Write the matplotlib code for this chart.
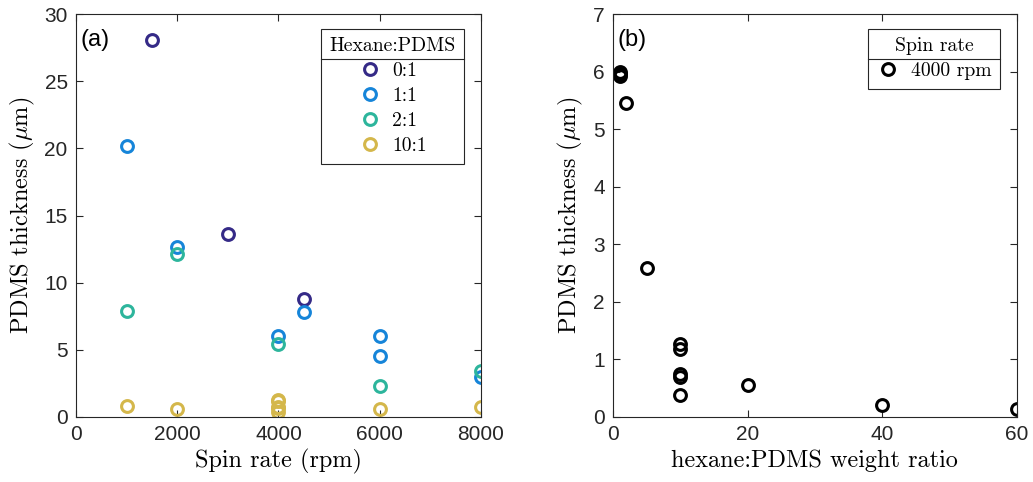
import numpy as np
import matplotlib
matplotlib.use('Agg')
import matplotlib.pyplot as plt
from matplotlib.lines import Line2D

plt.rcParams['font.family'] = ['Liberation Sans', 'DejaVu Sans']
plt.rcParams['mathtext.fontset'] = 'cm'
plt.rcParams['axes.unicode_minus'] = False

# ── (a) thickness vs spin rate, one series per hexane:PDMS ratio ─────────────
ratio_labels = ['0:1', '1:1', '2:1', '10:1']
ratio_colors = ['#352a87', '#1685d9', '#2db59c', '#d4b74b']

rpm_01 = [1500, 3000, 4500]
thk_01 = [28.1, 13.6, 8.8]

rpm_11 = [1000, 2000, 4000, 4500, 6000, 6000, 8000]
thk_11 = [20.2, 12.65, 6.0, 7.82, 6.0, 4.55, 2.95]

rpm_21 = [1000, 2000, 4000, 6000, 8000]
thk_21 = [7.9, 12.15, 5.45, 2.27, 3.43]

rpm_101 = [1000, 2000, 4000, 4000, 4000, 4000, 4000, 6000, 8000]
thk_101 = [0.82, 0.6, 1.27, 1.18, 0.75, 0.70, 0.39, 0.57, 0.77]

series_a = [(rpm_01, thk_01), (rpm_11, thk_11), (rpm_21, thk_21), (rpm_101, thk_101)]

# ── (b) thickness vs weight ratio at 4000 rpm ────────────────────────────────
wt_ratio = [1, 1, 1, 2, 5, 10, 10, 10, 10, 10, 20, 40, 60]
thk_4000 = [6.0, 5.96, 5.93, 5.46, 2.58, 1.27, 1.18, 0.75, 0.70, 0.39, 0.56, 0.20, 0.14]

SERIF = 'cmr10'
TICK_FS = 15
LABEL_FS = 17.5
LEG_FS = 14.2
MS, MEW = 8.5, 2.2
AX_COL = '#262626'

fig = plt.figure(figsize=(10.33, 4.82), dpi=100)
ax_a = fig.add_axes([0.0736, 0.1349, 0.392, 0.836])
ax_b = fig.add_axes([0.5934, 0.1349, 0.391, 0.836])


def style_axes(ax):
    ax.tick_params(direction='in', top=True, right=True, length=5, width=0.8,
                   labelsize=TICK_FS, colors=AX_COL, pad=6)
    for sp in ax.spines.values():
        sp.set_color(AX_COL)
        sp.set_linewidth(0.8)


ylab = r'PDMS thickness ($\mu$m)'

for (x, y), lab, col in zip(series_a, ratio_labels, ratio_colors):
    ax_a.plot(x, y, 'o', ms=MS, mfc='none', mec=col, mew=MEW, label=lab)
ax_a.set_xlim(0, 8000)
ax_a.set_ylim(0, 30)
ax_a.set_xticks([0, 2000, 4000, 6000, 8000])
ax_a.set_yticks([0, 5, 10, 15, 20, 25, 30])
ax_a.set_xlabel('Spin rate (rpm)', family=SERIF, fontsize=LABEL_FS, labelpad=3)
ax_a.set_ylabel(ylab, family=SERIF, fontsize=LABEL_FS, labelpad=5)
ax_a.text(0.012, 0.962, '(a)', transform=ax_a.transAxes, fontsize=17,
          va='top', ha='left')
style_axes(ax_a)

ax_b.plot(wt_ratio, thk_4000, 'o', ms=MS, mfc='none', mec='black', mew=MEW,
          label='4000 rpm')
ax_b.set_xlim(0, 60)
ax_b.set_ylim(0, 7)
ax_b.set_xticks([0, 20, 40, 60])
ax_b.set_yticks(range(0, 8))
ax_b.set_xlabel('hexane:PDMS weight ratio', family=SERIF, fontsize=LABEL_FS, labelpad=4)
ax_b.set_ylabel(ylab, family=SERIF, fontsize=LABEL_FS, labelpad=6)
ax_b.text(0.012, 0.962, '(b)', transform=ax_b.transAxes, fontsize=17,
          va='top', ha='left')
style_axes(ax_b)

# legends with a MATLAB-style title row separated by a rule
leg_kw = dict(loc='upper right', bbox_to_anchor=(0.958, 0.963), borderaxespad=0,
              frameon=True, fancybox=False, edgecolor=AX_COL, framealpha=1,
              prop={'family': SERIF, 'size': LEG_FS},
              handletextpad=0.55, borderpad=0.42, labelspacing=0.36,
              handlelength=1.2, alignment='center')
leg_a = ax_a.legend(title='Hexane:PDMS', **leg_kw)
leg_b = ax_b.legend(title='Spin rate', **leg_kw)
for leg in (leg_a, leg_b):
    leg.get_frame().set_linewidth(0.8)
    leg.get_title().set_fontfamily(SERIF)
    leg.get_title().set_fontsize(LEG_FS)

fig.canvas.draw()
renderer = fig.canvas.get_renderer()
inv = fig.transFigure.inverted()
for leg in (leg_a, leg_b):
    fb = leg.get_frame().get_window_extent(renderer)
    tb = leg.get_title().get_window_extent(renderer)
    eb = leg.get_texts()[0].get_window_extent(renderer)
    y = 0.5 * (tb.y0 + eb.y1)
    (x0, yf), (x1, _) = inv.transform([(fb.x0, y), (fb.x1, y)])
    fig.add_artist(Line2D([x0, x1], [yf, yf], color=AX_COL, lw=0.8))

fig.savefig('out.png', dpi=100)
